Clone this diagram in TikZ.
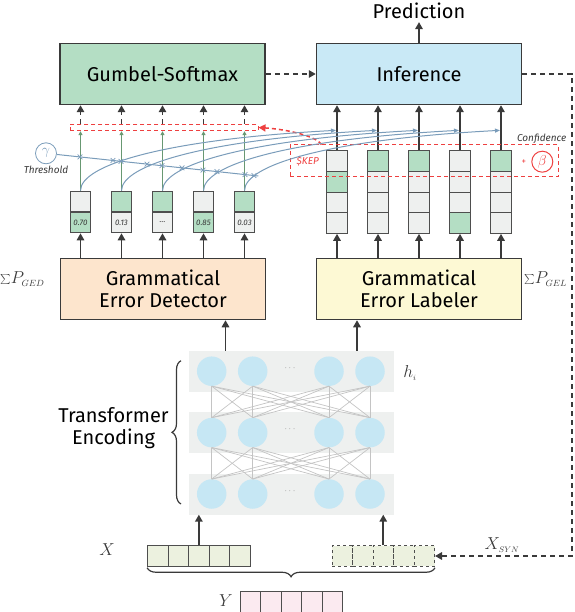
\documentclass[tikz,border=0pt]{standalone}
\usepackage{fontspec}
\setmainfont{Fira Sans}
\usetikzlibrary{arrows.meta}
\usetikzlibrary{calc}
\usetikzlibrary{positioning}
\usetikzlibrary{shapes.misc}
\usetikzlibrary{decorations.pathreplacing}

\definecolor{edge}{RGB}{58,58,58}
\definecolor{gumbelfill}{RGB}{180,222,196}
\definecolor{inferfill}{RGB}{201,233,246}
\definecolor{gedfill}{RGB}{253,229,205}
\definecolor{gelfill}{RGB}{253,249,212}
\definecolor{offcell}{RGB}{238,240,239}
\definecolor{oncell}{RGB}{180,222,196}
\definecolor{neuronfill}{RGB}{198,231,244}
\definecolor{bandfill}{RGB}{238,240,239}
\definecolor{wirecol}{RGB}{196,196,196}
\definecolor{steel}{RGB}{122,156,186}
\definecolor{leaf}{RGB}{104,152,114}
\definecolor{skep}{RGB}{238,64,64}
\definecolor{xfill}{RGB}{236,241,223}
\definecolor{yfill}{RGB}{251,234,240}

\tikzset{
    bigfont/.style={font=\fontsize{20}{22}\selectfont},
    block/.style={draw=edge, line width=1.5pt, minimum width=205, minimum height=61, align=center, bigfont},
    cell/.style={draw=edge!90, line width=1.1pt, minimum size=20.6, inner sep=0pt, font=\fontsize{8}{8}\selectfont\itshape, text=edge},
    tok/.style={draw=edge!90, line width=1pt, minimum size=20.5, inner sep=0pt},
    neuron/.style={circle, fill=neuronfill, minimum size=29.5, inner sep=0pt},
    bandbox/.style={fill=bandfill, minimum width=205, minimum height=41, inner sep=0pt},
    wire/.style={draw=wirecol, line width=.7pt},
    flow/.style={-{Triangle[length=7pt,width=7.5pt]}, draw=edge, line width=1.6pt},
    dflow/.style={flow, dash pattern=on 5pt off 4pt},
    passarr/.style={-{Triangle[length=4pt,width=4pt]}, draw=leaf, line width=1pt},
    confarr/.style={-{Triangle[length=5pt,width=4pt]}, draw=steel, line width=1pt},
    redbox/.style={draw=skep, line width=1pt, dash pattern=on 4pt off 3pt, inner sep=0pt},
    redarr/.style={-{Triangle[length=7pt,width=7pt]}, draw=skep, line width=1.5pt, dash pattern=on 4pt off 3pt},
    xmark/.style={cross out, draw=steel, line width=.7pt, minimum size=4pt, inner sep=0pt},
    note/.style={font=\fontsize{10}{10}\selectfont\itshape, text=edge, inner sep=1pt},
    param/.style={circle, line width=1pt, minimum size=21, inner sep=0pt, font=\fontsize{15}{15}\selectfont},
    mathlbl/.style={font=\fontsize{17}{17}\selectfont, text=edge, inner sep=1pt},
    sumlbl/.style={font=\fontsize{19}{19}\selectfont, text=edge, inner sep=0pt, anchor=west},
    brace/.style={decorate, decoration={brace, amplitude=9pt}, draw=edge, line width=1.2pt},
}

\begin{document}
\begin{tikzpicture}[x=1pt,y=-1pt]
    \useasboundingbox (0,0) rectangle (574,612);

    % top blocks
    \node[block, fill=gumbelfill] (gumbel) at (162.5,74) {Gumbel-Softmax};
    \node[block, fill=inferfill] (infer) at (419,74) {Inference};
    \node[bigfont, inner sep=3pt] (pred) at (419,11) {Prediction};
    \draw[flow] (infer) -- (pred);
    \draw[dflow] (gumbel) -- (infer);

    % middle blocks
    \node[block, fill=gedfill] (ged) at (163,289) {Grammatical\\Error Detector};
    \node[block, fill=gelfill] (gel) at (419,289) {Grammatical\\Error Labeler};
    \node[sumlbl] (sumged) at (0,279) {$\sum\! P_{\scriptscriptstyle GED}$};
    \node[sumlbl] (sumgel) at (524,279) {$\sum\! P_{\scriptscriptstyle GEL}$};

    % detector outputs
    \foreach \i/\tc/\bc/\val in {1/offcell/oncell/0.70, 2/oncell/offcell/0.13, 3/oncell/offcell/\dots, 4/offcell/oncell/0.85, 5/oncell/offcell/0.03}{
        \node[cell, fill=\tc] (dett\i) at (39.5+41*\i,201.5) {};
        \node[cell, fill=\bc] (detb\i) at (39.5+41*\i,222.5) {\val};
    }

    % labeler outputs
    \foreach \i/\g in {1/2, 2/1, 3/1, 4/4, 5/1}{
        \foreach \j in {1,...,4}{
            \def\cellshade{offcell}
            \ifnum\j=\g \def\cellshade{oncell}\fi
            \node[cell, fill=\cellshade] (lab\i\j) at (296+41*\i,140.6+20.6*\j) {};
        }
    }

    \foreach \i in {1,...,5}{
        \draw[flow] (detb\i |- ged.north) -- (detb\i);
        \draw[flow] (lab\i4 |- gel.north) -- (lab\i4);
        \draw[flow] (lab\i1) -- (lab\i1 |- infer.south);
    }

    % keep mask
    \node[redbox, minimum width=188, minimum height=6.4] (keep) at (164,127.5) {};
    \foreach \i in {1,...,5}{
        \draw[passarr] (dett\i) -- (dett\i |- keep.south);
        \draw[dflow] (dett\i |- keep.north) -- (dett\i |- gumbel.south);
    }

    % confidence
    \node[redbox, minimum width=268, minimum height=32] (skepbox) at (424,161) {};
    \node[note, text=skep, anchor=west] (skeplbl) at ($(skepbox.west)+(6,0)$) {\$KEP};
    \node[param, draw=skep, text=skep] (beta) at (542.3,161.7) {$\beta$};
    \node[note, text=skep, font=\small, left=4pt of beta] (plus) {+};
    \node[note] (conflbl) at (541.7,139.3) {Confidence};
    \draw[redarr] ($(skepbox.north west)+(32,0)$) .. controls +(-5,-8) and +(30,2) .. (keep.east);

    % threshold
    \node[param, draw=steel, text=steel, line width=.8pt] (gamma) at (46,153.3) {$\gamma$};
    \node[note, below=1pt of gamma] (thrlbl) {Threshold};
    \coordinate (thrend) at (258.3,176);
    \draw[steel, line width=1pt] (gamma) -- (thrend);

    \foreach \i in {1,...,5}{
        \coordinate (conf\i) at ($(lab\i1.north)+(-1,-20)$);
        \draw[confarr] (dett\i.north) .. controls +(0,-26) and +(-170,9) .. (conf\i);
    }
    \foreach \x in {80,113,121,147,162,182,203,217,245,254}
        \node[xmark] at ($(gamma.center)!{(\x-46)/212.3}!(thrend)$) {};

    % encoder
    \foreach \r/\y in {1/371.2, 2/432.6, 3/494}{
        \node[bandbox] (band\r) at (291.2,\y) {};
        \foreach \c/\x in {1/211.7, 2/252.7, 3/329, 4/370}
            \node[neuron] (n\r\c) at (\x,\y) {};
        \node[font=\small, text=gray] (dots\r) at (290,\y-3) {$\cdots$};
    }
    \foreach \r/\s in {1/2, 2/3}
        \foreach \a in {1,...,4}
            \foreach \b in {1,...,4}
                \draw[wire] (n\r\a.south) -- (n\s\b.north);
    \node[mathlbl] (hlbl) at (410,373) {$h_{\scriptscriptstyle i}$};

    \coordinate (brtop) at (181,360.7);
    \coordinate (brbot) at (181,504);
    \draw[brace] (brbot) -- (brtop);
    \node[bigfont, align=center] (enclbl) at (113.5,428) {Transformer\\Encoding};

    \coordinate (encl) at (225.5,350.7);
    \coordinate (encr) at (357,350.7);
    \draw[flow] (encl) -- (encl |- ged.south);
    \draw[flow] (encr) -- (encr |- gel.south);

    % inputs
    \foreach \k in {1,...,5}{
        \node[tok, fill=xfill] (xin\k) at (137.35+20.5*\k,556) {};
        \node[tok, fill=xfill, dashed] (xsyn\k) at (321.75+20.5*\k,556) {};
        \node[tok, fill=yfill] (yin\k) at (229.75+20.5*\k,602) {};
    }
    \draw[flow] (xin3) -- (xin3 |- band3.south);
    \draw[flow] (xsyn3) -- (xsyn3 |- band3.south);
    \node[mathlbl] (xlbl) at (107,550) {$X$};
    \node[mathlbl] (ylbl) at (226,601) {$Y$};
    \node[mathlbl] (xsynlbl) at (502,545) {$X_{\scriptscriptstyle SYN}$};
    \draw[brace] ($(xsyn5.south east)+(0,1)$) -- ($(xin1.south west)+(0,1)$);

    % feedback
    \coordinate (fbcorner) at (572,556);
    \draw[dflow] (infer.east) -| (fbcorner) -- (xsyn5.east);
\end{tikzpicture}
\end{document}
